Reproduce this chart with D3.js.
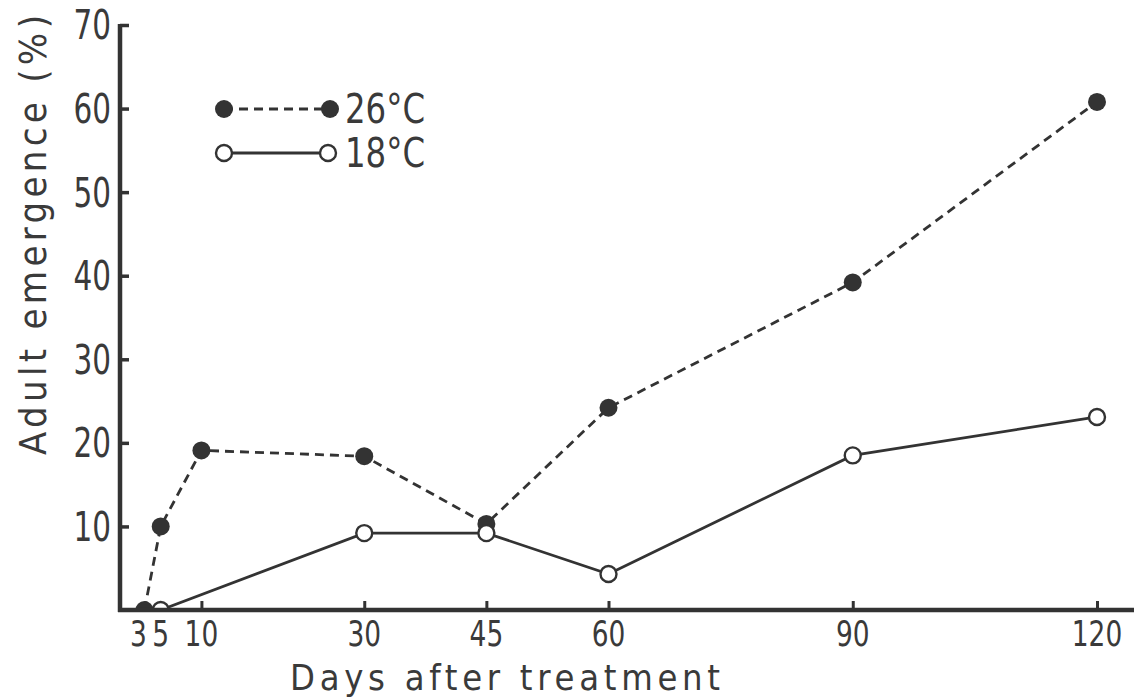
<!DOCTYPE html>
<html><head><meta charset="utf-8">
<script src="https://cdn.jsdelivr.net/npm/d3@7"></script>
<style>
html,body{margin:0;padding:0;background:#fff;}
text{font-family:"DejaVu Sans Condensed","DejaVu Sans",sans-serif;fill:#3a3a3a;}
</style></head>
<body>
<svg id="chart" width="1134" height="697"></svg>
<script>
const days = [3, 5, 10, 30, 45, 60, 90, 120];
const series26Days = [3, 5, 10, 30, 45, 60, 90, 120];
const series26 = [0, 10, 19.1, 18.4, 10.3, 24.2, 39.2, 60.8];
const series18Days = [5, 30, 45, 60, 90, 120];
const series18 = [0, 9.2, 9.2, 4.3, 18.5, 23.1];
const xTicks = [3, 5, 10, 30, 45, 60, 90, 120];
const yTicks = [10, 20, 30, 40, 50, 60, 70];
const legendLabels = ["26°C", "18°C"];

const svg = d3.select("#chart");
const x0 = 120, y0 = 610;
const x = d3.scaleLinear().domain([0, 120]).range([x0, 1097]);
const y = d3.scaleLinear().domain([0, 70]).range([y0, 25]);
const ink = "#333";
const sx = 0.84;

svg.append("defs").append("clipPath").attr("id","plotclip")
  .append("rect").attr("x", x0).attr("y", 0).attr("width", 1134 - x0).attr("height", y0);

const plot = svg.append("g").attr("clip-path","url(#plotclip)");

const line = d3.line().x(d => x(d[0])).y(d => y(d[1]));
const d26 = series26Days.map((d,i) => [d, series26[i]]);
const d18 = series18Days.map((d,i) => [d, series18[i]]);

plot.append("path").datum(d26).attr("d", line).attr("fill","none")
  .attr("stroke", ink).attr("stroke-width", 2.8).attr("stroke-dasharray","9,6");
plot.selectAll("circle.f").data(d26).join("circle").attr("class","f")
  .attr("cx", d => x(d[0])).attr("cy", d => y(d[1])).attr("r", 9).attr("fill", ink);

plot.append("path").datum(d18).attr("d", line).attr("fill","none")
  .attr("stroke", ink).attr("stroke-width", 2.8);
plot.selectAll("circle.o").data(d18).join("circle").attr("class","o")
  .attr("cx", d => x(d[0])).attr("cy", d => y(d[1])).attr("r", 8).attr("fill", "#fff")
  .attr("stroke", ink).attr("stroke-width", 2.4);

// axes
const yAxis = d3.axisRight(y).tickValues(yTicks).tickSize(9).tickFormat("");
const yg = svg.append("g").attr("transform", `translate(${x0},0)`).call(yAxis);
yg.select(".domain").remove();
yg.selectAll(".tick line").attr("stroke", ink).attr("stroke-width", 3.5);
svg.append("line").attr("x1", x0).attr("x2", x0).attr("y1", y(70) - 1).attr("y2", y0 + 2)
  .attr("stroke", ink).attr("stroke-width", 4.5);
svg.selectAll("text.yt").data(yTicks).join("text").attr("class","yt")
  .attr("transform", d => `translate(${x0 - 9},${y(d)}) scale(0.82,1)`)
  .attr("dy","0.36em").attr("text-anchor","end")
  .attr("font-size", 40).text(d => d);

const xAxis = d3.axisTop(x).tickValues([10, 30, 45, 60, 90, 120]).tickSize(9).tickFormat("");
const xg = svg.append("g").attr("transform", `translate(0,${y0})`).call(xAxis);
xg.select(".domain").remove();
xg.selectAll(".tick line").attr("stroke", ink).attr("stroke-width", 3);
svg.append("line").attr("x1", x0 - 2).attr("x2", 1134).attr("y1", y0).attr("y2", y0)
  .attr("stroke", ink).attr("stroke-width", 4.5);
const xNudge = {3: -6, 5: 0};
svg.selectAll("text.xt").data(xTicks).join("text").attr("class","xt")
  .attr("transform", d => `translate(${x(d) + (xNudge[d] || 0)},${y0 + 36}) scale(${sx},1)`)
  .attr("text-anchor","middle")
  .attr("font-size", 35).text(d => d);

svg.append("text").attr("x", 290).attr("y", 690)
  .attr("font-size", 36).attr("textLength", 430).attr("lengthAdjust","spacing")
  .text("Days after treatment");
svg.append("text").attr("transform","translate(46,455) rotate(-90)")
  .attr("font-size", 38).attr("textLength", 440).attr("lengthAdjust","spacing")
  .text("Adult emergence (%)");

// legend
const lg = svg.append("g");
const ly = [109, 153];
lg.append("line").attr("x1",224).attr("x2",330).attr("y1",ly[0]).attr("y2",ly[0])
  .attr("stroke", ink).attr("stroke-width",2.8).attr("stroke-dasharray","9,6");
[224,330].forEach(cx => lg.append("circle").attr("cx",cx).attr("cy",ly[0]).attr("r",9).attr("fill",ink));
lg.append("line").attr("x1",224).attr("x2",328).attr("y1",ly[1]).attr("y2",ly[1])
  .attr("stroke", ink).attr("stroke-width",2.8);
[224,328].forEach(cx => lg.append("circle").attr("cx",cx).attr("cy",ly[1]).attr("r",8)
  .attr("fill","#fff").attr("stroke",ink).attr("stroke-width",2.4));
lg.selectAll("text").data(legendLabels).join("text")
  .attr("transform", (d,i) => `translate(345,${ly[i]}) scale(0.9,1)`)
  .attr("dy","0.36em").attr("font-size", 40).text(d => d);
</script>
</body></html>
